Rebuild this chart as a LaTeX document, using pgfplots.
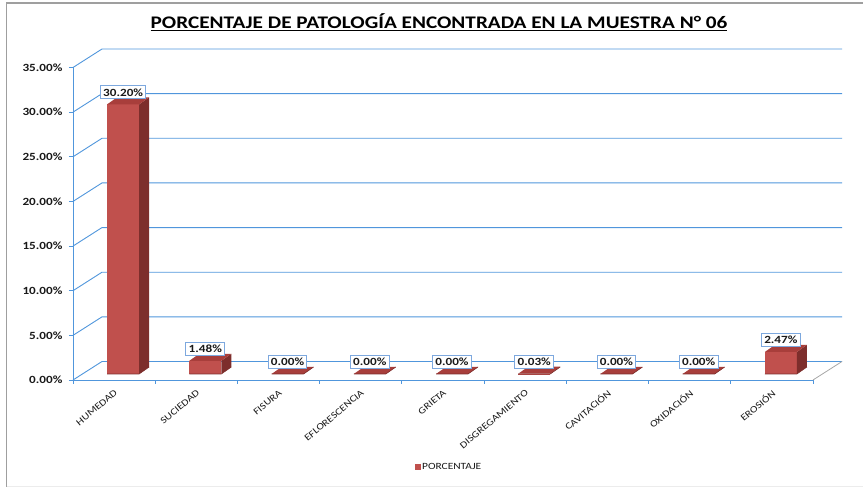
\documentclass[border=0pt]{standalone}
\usepackage{fontspec}
\setmainfont[FakeStretch=1.2]{Carlito}
\usepackage{pgfplots}
\usepackage{pgfplotstable}
\pgfplotsset{compat=1.18}

\definecolor{gridblue}{RGB}{80,150,220}
\definecolor{barfront}{RGB}{192,80,77}
\definecolor{barside}{RGB}{125,46,44}
\definecolor{bartop}{RGB}{168,62,59}
\definecolor{labelblue}{RGB}{125,168,222}
\definecolor{txt}{RGB}{25,25,25}

% barra 3D: cara frontal, lateral y superior (altura segun \rawy)
\pgfdeclareplotmark{caja}{%
  \pgfmathsetlengthmacro\yb{6pt-\rawy*8.928571pt}%
  \pgfmathsetlengthmacro\yc{13pt-\rawy*8.928571pt}%
  \pgfsetfillcolor{barfront}%
  \pgfpathrectanglecorners{\pgfpoint{-7pt}{\yb}}{\pgfpoint{25pt}{6pt}}%
  \pgfusepath{fill}%
  \pgfsetfillcolor{barside}%
  \pgfpathmoveto{\pgfpoint{25pt}{\yb}}%
  \pgfpathlineto{\pgfpoint{35pt}{\yc}}%
  \pgfpathlineto{\pgfpoint{35pt}{13pt}}%
  \pgfpathlineto{\pgfpoint{25pt}{6pt}}%
  \pgfpathclose\pgfusepath{fill}%
  \pgfsetfillcolor{bartop}%
  \pgfpathmoveto{\pgfpoint{-7pt}{6pt}}%
  \pgfpathlineto{\pgfpoint{25pt}{6pt}}%
  \pgfpathlineto{\pgfpoint{35pt}{13pt}}%
  \pgfpathlineto{\pgfpoint{3pt}{13pt}}%
  \pgfpathclose\pgfusepath{fill}%
  \pgfsetstrokecolor{barside}\pgfsetlinewidth{0.6pt}%
  \pgfpathmoveto{\pgfpoint{-7pt}{\yb}}%
  \pgfpathlineto{\pgfpoint{25pt}{\yb}}%
  \pgfpathlineto{\pgfpoint{35pt}{\yc}}%
  \pgfusepath{stroke}%
}

% porcentaje de cada patologia, muestra 06
\pgfplotstableread{
x y
0 30.20
1 1.48
2 0.00
3 0.00
4 0.00
5 0.03
6 0.00
7 0.00
8 2.47
}\muestra

\begin{document}
\begin{tikzpicture}
\useasboundingbox (0,0) rectangle (863pt,487pt);
\draw[gray!75, line width=1.2pt] (6.5pt,0) -- (6.5pt,484pt) -- (863pt,484pt);
\draw[gray!15] (6.5pt,1pt) -- (863pt,1pt);
\node[font=\bfseries\fontsize{17.7}{20}\selectfont, text=black] at (439pt,465pt)
  {\underline{PORCENTAJE DE PATOLOGÍA ENCONTRADA EN LA MUESTRA N° 06}};

\begin{axis}[
    at={(73pt,107pt)}, anchor=south west,
    scale only axis, width=740pt, height=312.5pt,
    xmin=-0.5, xmax=8.5, ymin=0, ymax=35,
    clip=false,
    /pgf/number format/assume math mode=true,
    axis x line*=bottom, axis y line*=left,
    axis line style={-, draw=gridblue, line width=0.9pt},
    tick style={draw=gridblue, line width=0.9pt},
    tick align=outside,
    xtick={0,...,8},
    xticklabels={HUMEDAD,SUCIEDAD,FISURA,EFLORESCENCIA,GRIETA,DISGREGAMIENTO,CAVITACIÓN,OXIDACIÓN,EROSIÓN},
    major x tick style={draw=none},
    minor xtick={-0.5,0.5,...,8.5},
    minor tick length=4pt,
    xticklabel style={rotate=40, anchor=east, yshift=-7pt,
      font=\fontsize{9.5}{11}\selectfont, text=txt},
    ytick={0,5,...,35},
    major tick length=4pt,
    yticklabel={\pgfmathprintnumber[fixed,zerofill,precision=2]{\tick}\%},
    yticklabel style={xshift=-3pt, font=\bfseries\fontsize{11}{12}\selectfont, text=txt},
    legend style={at={(0.508,-0.278)}, anchor=center, draw=none,
      font=\fontsize{9.5}{10}\selectfont, text=txt},
    legend image code/.code={\fill[barfront] (0pt,-2.6pt) rectangle (5.2pt,2.6pt);},
]
% pared del fondo
\pgfplotsinvokeforeach{0,5,...,35}{
  \draw[gridblue, line width=0.9pt] (axis cs:-0.5,#1) -- ([shift={(29pt,18.5pt)}]axis cs:-0.5,#1)
    -- ([shift={(29pt,18.5pt)}]axis cs:8.5,#1);
}
\draw[gray!70, line width=0.8pt] (axis cs:8.5,0) -- ([shift={(29pt,18.5pt)}]axis cs:8.5,0);

\addplot[forget plot, only marks, mark=caja,
    visualization depends on={rawy \as \rawy},
    nodes near coords={\pgfmathprintnumber[fixed,zerofill,precision=2]{\pgfplotspointmeta}\%},
    every node near coord/.append style={anchor=center, xshift=9pt, yshift=18pt,
      draw=labelblue, line width=1pt, fill=white, inner xsep=2.8pt, inner ysep=2.6pt,
      font=\bfseries\fontsize{11}{12}\selectfont, text=txt},
] table[x=x, y=y] {\muestra};

\addlegendimage{barfront}
\addlegendentry{PORCENTAJE}
\end{axis}
\end{tikzpicture}
\end{document}
